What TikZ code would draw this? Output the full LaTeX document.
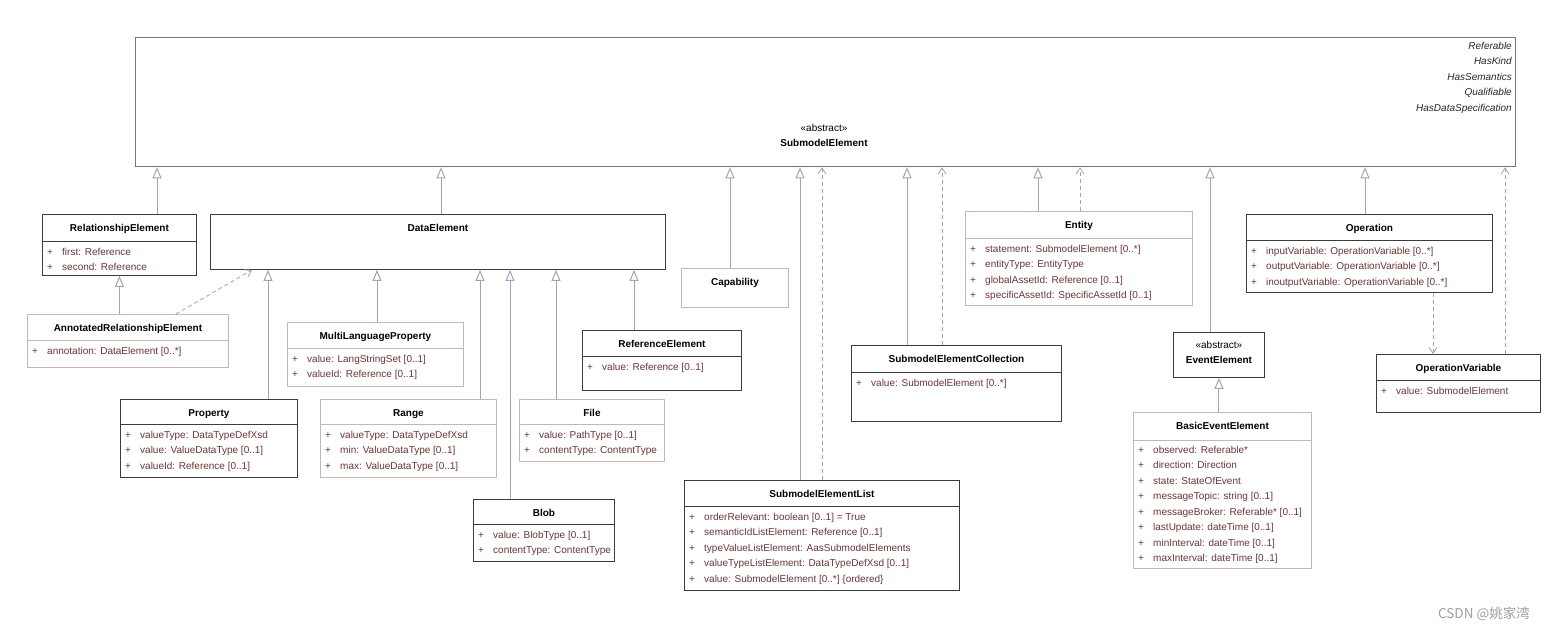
\documentclass[tikz,border=0pt]{standalone}
\usepackage{fontspec}
\setmainfont{Liberation Sans}
\newfontfamily\cjk{Noto Sans CJK SC}
\usepackage{tikz}
\usetikzlibrary{arrows.meta}
\definecolor{attrbrown}{RGB}{108,52,52}
\definecolor{darkedge}{RGB}{60,60,60}
\definecolor{lightedge}{RGB}{200,182,182}
\definecolor{topedge}{RGB}{118,118,118}
\definecolor{linkblue}{RGB}{160,164,184}
\newcommand{\vis}{\makebox[15pt][l]{+}}

\begin{document}
\begin{tikzpicture}[x=1pt, y=-1pt,
	darkcls/.style={draw=darkedge, line width=0.9pt, anchor=north west, inner sep=0pt},
	lightcls/.style={draw=lightedge, line width=0.9pt, anchor=north west, inner sep=0pt},
	darksep/.style={draw=darkedge, line width=0.9pt},
	lightsep/.style={draw=lightedge, line width=0.9pt},
	clstitle/.style={anchor=base, inner sep=0pt, yshift=-17.5pt, font=\bfseries},
	attr/.style={anchor=base west, inner sep=0pt, xshift=5pt, text=attrbrown},
	gen/.style={draw=linkblue, line width=1pt, -{Triangle[open, length=11pt, width=9pt]}},
	real/.style={draw=linkblue, line width=0.8pt, dash pattern=on 4pt off 3pt, -{Straight Barb[length=6pt, width=8pt]}}]
	\useasboundingbox (0,0) rectangle (1545,634);

	\node (sme) at (135,37) [draw=topedge, line width=1.3pt, anchor=north west, inner sep=0pt, minimum width=1380pt, minimum height=129pt] {};
	\node (sme-s) at (824,131.5) [anchor=base, inner sep=0pt] {«abstract»};
	\node (sme-t) at (824,146.5) [anchor=base, inner sep=0pt, font=\bfseries] {SubmodelElement};
	\foreach \n [count=\i] in {Referable, HasKind, HasSemantics, Qualifiable, HasDataSpecification}
		\node (sme-i\i) at (1512,34.2+15.4*\i) [anchor=base east, inner sep=0pt, text=black!85, font=\itshape] {\n};

	\node (rel) at (42,214) [darkcls, minimum width=154pt, minimum height=61pt] {};
	\node (rel-t) at (rel.north) [clstitle] {RelationshipElement};
	\draw [darksep] (rel.west |- 0,241) -- (rel.east |- 0,241);
	\foreach \a [count=\i] in {first: Reference, second: Reference}
		\node (rel-a\i) at (rel.west |- 0,239.5+15.5*\i) [attr] {\vis\a};

	\node (de) at (210,214) [darkcls, minimum width=455pt, minimum height=55pt] {};
	\node (de-t) at (de.north) [clstitle] {DataElement};

	\node (are) at (27,314) [lightcls, minimum width=201pt, minimum height=53pt] {};
	\node (are-t) at (are.north) [clstitle] {AnnotatedRelationshipElement};
	\draw [lightsep] (are.west |- 0,340) -- (are.east |- 0,340);
	\node (are-a1) at (are.west |- 0,354) [attr] {\vis annotation: DataElement [0..*]};

	\node (mlp) at (287,322) [lightcls, minimum width=176pt, minimum height=64pt] {};
	\node (mlp-t) at (mlp.north) [clstitle] {MultiLanguageProperty};
	\draw [lightsep] (mlp.west |- 0,348) -- (mlp.east |- 0,348);
	\foreach \a [count=\i] in {value: LangStringSet [0..1], valueId: Reference [0..1]}
		\node (mlp-a\i) at (mlp.west |- 0,346.5+15.5*\i) [attr] {\vis\a};

	\node (prop) at (120,399) [darkcls, minimum width=177pt, minimum height=78pt] {};
	\node (prop-t) at (prop.north) [clstitle] {Property};
	\draw [darksep] (prop.west |- 0,424) -- (prop.east |- 0,424);
	\foreach \a [count=\i] in {valueType: DataTypeDefXsd, value: ValueDataType [0..1], valueId: Reference [0..1]}
		\node (prop-a\i) at (prop.west |- 0,422.5+15.5*\i) [attr] {\vis\a};

	\node (rng) at (320,399) [lightcls, minimum width=176pt, minimum height=78pt] {};
	\node (rng-t) at (rng.north) [clstitle] {Range};
	\draw [lightsep] (rng.west |- 0,424) -- (rng.east |- 0,424);
	\foreach \a [count=\i] in {valueType: DataTypeDefXsd, min: ValueDataType [0..1], max: ValueDataType [0..1]}
		\node (rng-a\i) at (rng.west |- 0,422.5+15.5*\i) [attr] {\vis\a};

	\node (file) at (519,399) [lightcls, minimum width=145pt, minimum height=62pt] {};
	\node (file-t) at (file.north) [clstitle] {File};
	\draw [lightsep] (file.west |- 0,424) -- (file.east |- 0,424);
	\foreach \a [count=\i] in {value: PathType [0..1], contentType: ContentType}
		\node (file-a\i) at (file.west |- 0,422.5+15.5*\i) [attr] {\vis\a};

	\node (blob) at (473,499) [darkcls, minimum width=141pt, minimum height=62pt] {};
	\node (blob-t) at (blob.north) [clstitle] {Blob};
	\draw [darksep] (blob.west |- 0,524) -- (blob.east |- 0,524);
	\foreach \a [count=\i] in {value: BlobType [0..1], contentType: ContentType}
		\node (blob-a\i) at (blob.west |- 0,522.5+15.5*\i) [attr] {\vis\a};

	\node (ref) at (582,330) [darkcls, minimum width=159pt, minimum height=60pt] {};
	\node (ref-t) at (ref.north) [clstitle] {ReferenceElement};
	\draw [darksep] (ref.west |- 0,356) -- (ref.east |- 0,356);
	\node (ref-a1) at (ref.west |- 0,370) [attr] {\vis value: Reference [0..1]};

	\node (cap) at (681,268) [lightcls, minimum width=107pt, minimum height=39pt] {};
	\node (cap-t) at (cap.north) [clstitle] {Capability};

	\node (sml) at (684,480) [darkcls, minimum width=275pt, minimum height=110pt] {};
	\node (sml-t) at (sml.north) [clstitle] {SubmodelElementList};
	\draw [darksep] (sml.west |- 0,506) -- (sml.east |- 0,506);
	\foreach \a [count=\i] in {orderRelevant: boolean [0..1] = True, semanticIdListElement: Reference [0..1], typeValueListElement: AasSubmodelElements, valueTypeListElement: DataTypeDefXsd [0..1], value: SubmodelElement [0..*] \{ordered\}}
		\node (sml-a\i) at (sml.west |- 0,504.5+15.5*\i) [attr] {\vis\a};

	\node (smc) at (851,345) [darkcls, minimum width=210pt, minimum height=76pt] {};
	\node (smc-t) at (smc.north) [clstitle] {SubmodelElementCollection};
	\draw [darksep] (smc.west |- 0,372) -- (smc.east |- 0,372);
	\node (smc-a1) at (smc.west |- 0,386) [attr] {\vis value: SubmodelElement [0..*]};

	\node (ent) at (965,211) [lightcls, minimum width=227pt, minimum height=94pt] {};
	\node (ent-t) at (ent.north) [clstitle] {Entity};
	\draw [lightsep] (ent.west |- 0,238) -- (ent.east |- 0,238);
	\foreach \a [count=\i] in {statement: SubmodelElement [0..*], entityType: EntityType, globalAssetId: Reference [0..1], specificAssetId: SpecificAssetId [0..1]}
		\node (ent-a\i) at (ent.west |- 0,236.5+15.5*\i) [attr] {\vis\a};

	\node (ee) at (1173,332) [darkcls, minimum width=91pt, minimum height=45pt] {};
	\node (ee-s) at (ee.north) [anchor=base, inner sep=0pt, yshift=-16.5pt] {«abstract»};
	\node (ee-t) at (ee.north) [clstitle, yshift=-14pt] {EventElement};

	\node (bee) at (1133,412) [lightcls, minimum width=178pt, minimum height=156pt] {};
	\node (bee-t) at (bee.north) [clstitle] {BasicEventElement};
	\draw [lightsep] (bee.west |- 0,440) -- (bee.east |- 0,440);
	\foreach \a [count=\i] in {observed: Referable*, direction: Direction, state: StateOfEvent, messageTopic: string [0..1], messageBroker: Referable* [0..1], lastUpdate: dateTime [0..1], minInterval: dateTime [0..1], maxInterval: dateTime [0..1]}
		\node (bee-a\i) at (bee.west |- 0,437.5+15.5*\i) [attr] {\vis\a};

	\node (op) at (1246,214) [darkcls, minimum width=246pt, minimum height=78pt] {};
	\node (op-t) at (op.north) [clstitle] {Operation};
	\draw [darksep] (op.west |- 0,240) -- (op.east |- 0,240);
	\foreach \a [count=\i] in {inputVariable: OperationVariable [0..*], outputVariable: OperationVariable [0..*], inoutputVariable: OperationVariable [0..*]}
		\node (op-a\i) at (op.west |- 0,238.5+15.5*\i) [attr] {\vis\a};

	\node (ov) at (1376,354) [darkcls, minimum width=164pt, minimum height=58pt] {};
	\node (ov-t) at (ov.north) [clstitle] {OperationVariable};
	\draw [darksep] (ov.west |- 0,380) -- (ov.east |- 0,380);
	\node (ov-a1) at (ov.west |- 0,394) [attr] {\vis value: SubmodelElement};

	\foreach \c/\x in {rel/157, de/441, cap/730, sml/800, smc/907, ent/1038, ee/1210, op/1365}
		\draw [gen] (\c.north -| \x,0) -- (sme.south -| \x,0);
	\foreach \c/\x in {sml/822, smc/942, ent/1080, ov/1505}
		\draw [real] (\c.north -| \x,0) -- (sme.south -| \x,0);
	\foreach \c/\x in {prop/268, mlp/377, rng/480, blob/510, file/556, ref/634}
		\draw [gen] (\c.north -| \x,0) -- (de.south -| \x,0);
	\draw [gen] (are.north -| rel.south) -- (rel.south);
	\draw [real] (are.north -| 176,0) -- (de.south -| 252,0);
	\draw [gen] (bee.north -| ee.south) -- (ee.south);
	\draw [real] (op.south -| 1433,0) -- (ov.north -| 1433,0);

	\node (mark) at (1530,614) [anchor=east, inner sep=0pt, text=black!38, font=\cjk\fontsize{13.5}{16}\selectfont] {CSDN @姚家湾};
\end{tikzpicture}
\end{document}
